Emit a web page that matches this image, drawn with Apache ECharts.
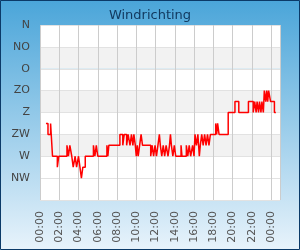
<!DOCTYPE html>
<html>
<head>
<meta charset="utf-8">
<script src="https://cdn.jsdelivr.net/npm/echarts@6/dist/echarts.min.js"></script>
<style>
  html, body { margin: 0; padding: 0; }
  #chart { width: 300px; height: 250px; }
</style>
</head>
<body>
<div id="chart"></div>
<script>
// windrichting in graden (0 = N), tijd in uren vanaf middernacht
const dirLabels = ['N', 'NO', 'O', 'ZO', 'Z', 'ZW', 'W', 'NW', ''];
const hours = [
  0.62, 0.83, 1.1, 1.3, 1.8, 1.95, 2.8, 2.95, 3.1, 3.3,
  3.45, 3.65, 3.8, 4.0, 4.15, 4.3, 4.45, 4.7, 5.55, 5.7,
  5.85, 6.0, 6.95, 7.05, 7.15, 8.3, 8.6, 8.75, 9.0, 9.15,
  9.35, 9.5, 9.65, 9.75, 9.9, 10.0, 10.1, 10.2, 10.35, 10.5,
  10.65, 11.5, 11.65, 11.8, 11.95, 12.1, 12.25, 12.4, 12.5, 12.65,
  12.8, 12.95, 13.1, 13.3, 13.45, 13.55, 13.65, 13.8, 13.95, 14.1,
  14.65, 14.75, 15.2, 15.35, 15.5, 15.65, 15.85, 16.0, 16.1, 16.25,
  16.4, 16.55, 16.65, 16.8, 16.95, 17.1, 17.25, 17.4, 17.55, 17.7,
  18.25, 18.35, 18.45, 18.6, 19.55, 20.25, 20.65, 21.65, 22.15, 22.3,
  22.45, 22.55, 22.7, 22.8, 22.95, 23.05, 23.2, 23.3, 23.45, 23.55,
  23.65, 23.75, 23.95, 24.35, 24.5
];
const directions = [
  202.5, 225, 202.5, 270, 292.5, 270, 247.5, 270, 247.5, 270,
  292.5, 270, 292.5, 270, 292.5, 315, 292.5, 270, 247.5, 270,
  247.5, 270, 247.5, 270, 247.5, 225, 247.5, 225, 247.5, 225,
  247.5, 225, 247.5, 225, 247.5, 270, 247.5, 270, 247.5, 225,
  247.5, 270, 247.5, 270, 247.5, 270, 247.5, 225, 247.5, 270,
  247.5, 270, 247.5, 270, 247.5, 225, 247.5, 270, 247.5, 270,
  247.5, 270, 247.5, 270, 247.5, 270, 247.5, 270, 225, 247.5,
  225, 270, 247.5, 225, 247.5, 225, 247.5, 225, 247.5, 225,
  202.5, 225, 202.5, 225, 180, 157.5, 180, 157.5, 180, 157.5,
  180, 157.5, 180, 157.5, 180, 157.5, 180, 135, 157.5, 135,
  157.5, 135, 157.5, 180, 180
];

const chart = echarts.init(document.getElementById('chart'), null, { renderer: 'canvas' });

const pad = n => (n < 10 ? '0' : '') + n;

chart.setOption({
  animation: false,
  backgroundColor: new echarts.graphic.LinearGradient(0, 0, 0, 1, [
    { offset: 0, color: '#4aa5d9' },
    { offset: 1, color: '#e8f3fb' }
  ]),
  graphic: [{
    type: 'rect',
    shape: { x: 0.5, y: 0.5, width: 299, height: 249 },
    style: { fill: 'none', stroke: '#0b3a68', lineWidth: 1 },
    z: 100
  }],
  title: {
    text: 'Windrichting',
    left: 'center',
    top: 4,
    textStyle: { fontFamily: 'DejaVu Sans', fontSize: 13, fontWeight: 'normal', color: '#123a60' }
  },
  grid: { left: 40, right: 20, top: 25, bottom: 50 },
  xAxis: {
    type: 'value',
    min: 0,
    max: 24.93,
    interval: 2,
    axisLine: { show: false },
    axisTick: { show: false },
    splitLine: { show: true, lineStyle: { color: '#cccccc', width: 1 } },
    axisLabel: {
      rotate: 90,
      margin: 11,
      showMaxLabel: false,
      fontFamily: 'DejaVu Sans',
      fontSize: 11,
      color: '#555555',
      formatter: v => pad(Math.round(v) % 24) + ':00'
    }
  },
  yAxis: {
    type: 'value',
    inverse: true,
    min: 0,
    max: 360,
    interval: 45,
    axisLine: { show: false },
    axisTick: { show: false },
    splitLine: { show: true, lineStyle: { color: '#e2e2e2', width: 1 } },
    splitArea: {
      show: true,
      areaStyle: { color: ['#ffffff', '#f2f2f2', '#ffffff', '#f2f2f2', '#ffffff', '#f2f2f2', '#ffffff', '#ffffff'] }
    },
    axisLabel: {
      margin: 10,
      fontFamily: 'DejaVu Sans',
      fontSize: 11,
      color: '#444444',
      formatter: v => dirLabels[Math.round(v / 45)]
    }
  },
  series: [{
    type: 'line',
    step: 'end',
    showSymbol: false,
    data: hours.map((h, i) => [h, directions[i]]),
    lineStyle: { color: '#ff0000', width: 1.5 },
    itemStyle: { color: '#ff0000' }
  }]
});
</script>
</body>
</html>
